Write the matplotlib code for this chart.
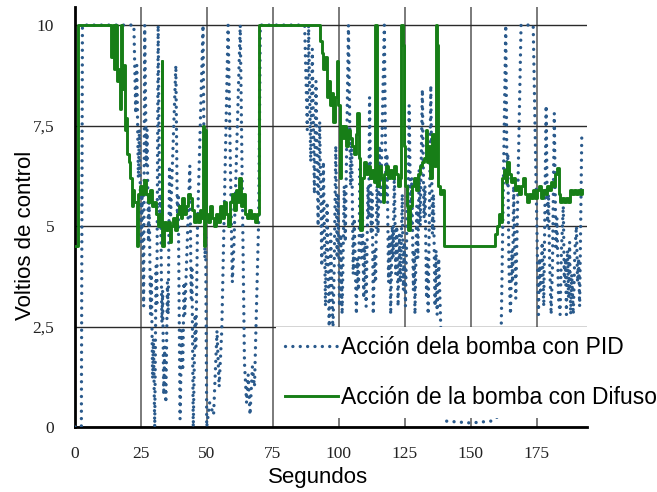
import matplotlib
matplotlib.use("Agg")
import matplotlib.pyplot as plt

plt.rcParams['font.family'] = ['Liberation Sans', 'DejaVu Sans']

# Acción de la bomba con PID (vertices)
t_pid = [0, 2.4, 2.8, 22.3,
         23.0, 23.4, 24.0, 24.4, 25.0, 25.4, 26.0, 26.4, 27.0, 27.3, 27.8, 28.1,
         28.6, 28.9, 29.4, 29.7, 30.2, 30.7, 31.0, 31.5, 32.1, 32.4, 32.9, 33.2,
         33.6, 34.0, 34.4, 35.0, 35.3, 35.8, 36.2, 38.2, 38.8, 39.1, 39.8, 40.4,
         40.8, 41.3, 41.6, 43.5, 44.0, 44.3, 44.8, 45.5, 45.8, 46.4, 48.5, 49.2,
         49.5, 49.9, 51.0, 52.5, 53.8, 54.6, 55.6, 58.0, 59.6, 60.2, 62.6, 64.2,
         65.0, 65.6, 66.3, 67.2, 68.0, 69.6, 70.2, 87.0,
         88.0, 88.5, 89.3, 89.9, 90.7, 91.3, 92.1, 92.7, 93.5, 94.1, 94.9, 95.5,
         96.3, 96.9, 97.7, 98.2,
         98.8, 99.3, 99.7, 100.2, 100.7, 101.2, 102.0, 102.4, 103.6,
         104.4, 104.8, 105.4, 105.8, 106.6, 107.0, 107.4, 108.0, 108.5, 108.9,
         109.4, 109.8, 110.3, 111.0, 111.3, 111.6, 112.2, 112.6, 113.0, 113.5,
         113.9, 114.4, 114.8, 115.4, 115.8, 117.2, 117.8, 118.2, 118.8, 119.2,
         119.6, 120.2, 120.5, 121.0, 121.5, 121.9, 122.4, 122.9, 123.3, 124.0,
         124.4, 124.8, 125.2, 126.0, 126.2, 126.6, 127.2, 127.6, 128.2, 128.5,
         128.8, 129.5, 129.9, 130.4, 130.8, 131.6, 132.2, 132.6, 133.2, 133.5,
         133.8, 134.4, 134.8, 135.4, 135.8, 136.4, 136.8, 137.2, 137.8, 138.4,
         139.2, 140.0, 150.0, 158.0, 161.0,
         163.2, 163.7, 164.0, 164.4, 165.0, 165.5, 165.8, 166.2, 167.0, 169.0,
         173.6, 175.6, 176.0, 176.4, 177.0, 177.6, 178.5, 179.0, 179.4, 179.8,
         180.4, 180.9, 181.6, 182.2, 182.6, 183.2, 183.8, 184.3, 185.0, 185.4,
         185.8, 186.2, 186.6, 187.0, 187.4, 187.8, 188.2, 188.8, 189.4, 190.0,
         190.4, 190.8, 191.2, 192.0]
v_pid = [0, 0, 10, 10,
         7.8, 9.0, 6.2, 7.4, 4.6, 5.8, 3.0, 10, 6.5, 7.4, 4.6, 5.6,
         2.8, 3.8, 1.2, 2.2, 0.0, 4.0, 3.0, 10, 5.0, 5.8, 2.6, 3.4,
         0.8, 2.0, 0.6, 3.6, 2.8, 6.5, 5.2, 9.0, 5.0, 5.8, 0.2, 2.4,
         1.4, 3.6, 2.8, 6.5, 3.2, 4.0, 0.0, 2.8, 2.0, 5.0, 10, 4.2,
         4.8, 0.0, 0.6, 0.3, 2.4, 1.0, 2.4, 10, 3.6, 4.5, 10, 1.6,
         0.6, 1.3, 0.3, 1.5, 1.0, 5.2, 10, 10,
         7.4, 10, 6.6, 9.4, 5.8, 8.6, 5.0, 7.6, 4.0, 6.6, 3.0, 5.6,
         2.4, 4.8, 2.3, 4.0,
         7.0, 4.2, 5.8, 3.0, 4.8, 2.8, 6.0, 4.6, 10,
         6.0, 7.2, 3.8, 5.2, 2.8, 4.2, 3.4, 6.5, 4.2, 5.4,
         3.2, 4.6, 3.0, 6.0, 5.2, 8.2, 4.8, 5.8, 2.8, 4.4,
         3.6, 6.2, 4.8, 7.0, 5.6, 10, 5.8, 6.8, 3.6, 4.8,
         2.8, 5.0, 4.2, 6.4, 3.8, 5.0, 3.0, 4.8, 3.6, 5.8,
         3.4, 4.6, 3.0, 6.0, 5.4, 8.0, 5.0, 6.2, 3.4, 4.4,
         2.8, 5.5, 4.2, 6.4, 5.0, 8.4, 5.2, 6.0, 3.2, 4.2,
         2.8, 6.0, 8.5, 4.8, 5.8, 3.0, 4.4, 2.8, 4.2, 2.9,
         1.0, 0.15, 0.1, 0.15, 0.3,
         10, 6.0, 6.8, 4.0, 2.8, 4.4, 3.6, 6.0, 3.2, 10,
         10, 2.8, 4.2, 3.4, 4.6, 3.0, 8.0, 5.0, 5.8, 4.2,
         2.8, 4.0, 7.8, 4.4, 5.2, 3.2, 2.8, 4.4, 5.5, 3.6,
         4.2, 2.8, 4.4, 3.2, 4.6, 2.8, 3.8, 2.8, 4.4, 5.0,
         3.6, 4.2, 3.0, 7.2]

# Acción de la bomba con Difuso (step changes)
t_dif = [0, 1.3, 13.6, 14.2, 14.8, 15.3, 15.9, 16.5, 17.0, 17.4, 17.8, 18.4,
         18.75, 19.3, 19.7, 20.3, 20.8, 21.4, 22.0, 22.5, 23.3, 23.9, 24.6, 25.4,
         26.1, 26.9, 27.7, 28.4, 29.2, 29.9, 30.7, 31.4, 32.2, 32.8, 33.1, 33.7,
         34.5, 35.2, 35.8, 36.4, 37.1, 37.9, 38.6, 39.4, 40.2, 40.5, 41.3, 42.0,
         42.8, 43.6, 44.3, 45.1, 45.8, 46.6, 47.3, 47.9, 48.3, 48.9, 49.2, 49.6,
         50.4, 51.1, 51.9, 52.7, 53.4, 54.2, 54.9, 55.7, 56.4, 57.2, 57.9, 58.7,
         59.5, 60.2, 61.0, 61.7, 62.3, 62.9, 63.6, 64.4, 65.2, 65.9, 66.7, 67.4,
         68.2, 68.9, 69.7,
         92.8, 93.6, 94.1, 94.7, 95.3, 95.8, 96.6, 97.3, 97.9, 98.5, 99.1, 99.6,
         100.4, 100.8, 101.5, 102.1, 102.7, 103.4, 104.2, 104.9, 105.7, 106.4,
         107.0, 107.6, 108.1, 108.7, 109.5, 110.2, 111.0, 111.7, 112.5, 113.3,
         113.8, 114.4, 115.2, 115.9, 116.7, 117.2, 117.8, 118.6, 119.3, 120.1,
         120.8, 121.6, 122.3, 123.1, 123.5, 124.1, 124.6, 125.2, 125.8, 126.3,
         126.9, 127.7, 128.4, 129.2, 129.9, 130.7, 131.4, 132.2, 132.8, 133.3,
         133.9, 134.5, 135.2, 136.0, 136.6, 137.3, 137.7, 138.3, 139.0, 139.8,
         159.1, 159.8, 160.6, 161.4, 161.9, 162.5, 163.3, 163.8, 164.4, 165.2,
         165.9, 166.7, 167.4, 168.2, 168.9, 169.7, 170.5, 171.2, 172.0, 172.7,
         173.5, 174.2, 175.0, 175.8, 176.5, 177.3, 178.0, 178.8, 179.5, 180.3,
         181.1, 181.8, 182.6, 183.3, 183.9, 184.5, 185.2, 186.0, 186.7, 187.5,
         188.3, 189.0, 189.8, 190.5, 191.3, 192.0]
v_dif = [4.5, 10, 9.2, 10, 8.9, 10, 8.6, 8.9, 7.9, 10, 8.4, 9.0,
         7.4, 7.7, 6.8, 6.6, 6.2, 5.5, 5.9, 5.6, 4.5, 5.8, 6.0, 5.8,
         6.15, 5.8, 5.6, 5.9, 5.5, 5.6, 5.3, 5.0, 5.3, 9.1, 4.5, 5.1,
         4.9, 5.1, 4.6, 5.0, 5.2, 4.9, 5.3, 5.5, 5.2, 5.7, 5.3, 5.5,
         5.8, 5.7, 5.4, 5.1, 5.3, 5.1, 5.4, 5.2, 7.5, 4.5, 7.4, 5.3,
         5.1, 5.5, 5.2, 5.0, 5.3, 5.1, 5.5, 5.2, 5.6, 5.3, 5.0, 5.6,
         5.8, 5.4, 5.9, 5.6, 6.2, 5.5, 5.8, 5.3, 5.2, 5.4, 5.2, 5.3,
         5.1, 5.3, 10,
         9.6, 9.3, 8.9, 9.2, 8.2, 8.6, 8.0, 8.3, 7.6, 8.2, 9.1, 8.0,
         6.2, 7.5, 7.2, 7.5, 7.0, 7.4, 7.2, 7.0, 6.8, 7.3,
         7.8, 6.7, 4.9, 6.2, 6.6, 6.3, 6.5, 6.2, 6.4, 6.1,
         10, 6.0, 6.5, 6.2, 5.6, 6.3, 6.5, 6.2, 6.4, 6.2,
         6.5, 6.3, 6.0, 6.2, 10, 9.5, 7.0, 6.0, 5.5, 4.9,
         5.5, 6.0, 6.2, 5.9, 6.3, 6.5, 6.6, 6.7, 7.4, 6.6,
         7.0, 6.2, 7.3, 6.5, 10, 9.5, 6.0, 5.8, 5.9, 4.5,
         4.8, 5.0, 5.3, 5.1, 6.2, 6.4, 6.1, 6.6, 6.3, 6.1,
         6.2, 5.9, 6.0, 5.8, 6.0, 6.2, 5.8, 5.6, 5.8, 5.7,
         5.9, 5.7, 5.9, 6.0, 5.7, 5.9, 5.8, 6.0, 5.9, 6.1,
         6.0, 6.3, 6.45, 5.8, 5.6, 5.7, 5.6, 5.7, 5.6, 5.9,
         5.8, 5.9, 5.8, 5.9, 5.8, 5.9]

x_ticks = [0, 25, 50, 75, 100, 125, 150, 175]
y_ticks = [0, 2.5, 5, 7.5, 10]
y_labels = ["0", "2,5", "5", "7,5", "10"]

fig = plt.figure(figsize=(6.57, 4.92), dpi=100)
ax = fig.add_axes([0.1142, 0.1321, 0.7793, 0.8537])

ax.plot(t_pid, v_pid, color='#2A5A8C', lw=2.4, linestyle=(0, (0.01, 2.2)),
        dash_capstyle='round', label='Acción dela bomba con PID', zorder=3)
ax.plot(t_dif, v_dif, color='#177E17', lw=2.1, drawstyle='steps-post',
        label='Acción de la bomba con Difuso', zorder=4)

ax.set_xlim(0, 194)
ax.set_ylim(0, 10.45)
ax.set_xticks(x_ticks)
ax.set_yticks(y_ticks)
ax.set_yticklabels(y_labels)
for lab in ax.get_xticklabels() + ax.get_yticklabels():
    lab.set_fontfamily('Liberation Serif')
    lab.set_fontsize(12.5)
    lab.set_color('#222222')
ax.tick_params(axis='both', length=0)
ax.tick_params(axis='y', pad=15)
ax.tick_params(axis='x', pad=14)

ax.set_axisbelow(True)
ax.yaxis.grid(True, color='#2a2a2a', lw=1.0)
ax.xaxis.grid(True, color='#707070', lw=1.3)

for s in ['top', 'right']:
    ax.spines[s].set_visible(False)
for s in ['left', 'bottom']:
    ax.spines[s].set_linewidth(2.0)
    ax.spines[s].set_color('black')

fig.text(26 / 657, 1 - 235 / 492, 'Voltios de control', rotation=90,
         ha='center', va='center', fontsize=16)
fig.text(318 / 657, 1 - 478 / 492, 'Segundos', ha='center', va='center',
         fontsize=16)

leg = ax.legend(loc='center left', bbox_to_anchor=(0.42, 0.243),
                bbox_transform=fig.transFigure, fontsize=16.5, frameon=True,
                facecolor='white', edgecolor='none', framealpha=1,
                fancybox=False, borderpad=0.4, handlelength=2.3,
                handletextpad=0.15, labelspacing=1.15, borderaxespad=0)
leg.set_zorder(10)

fig.savefig('out.png', dpi=100)
